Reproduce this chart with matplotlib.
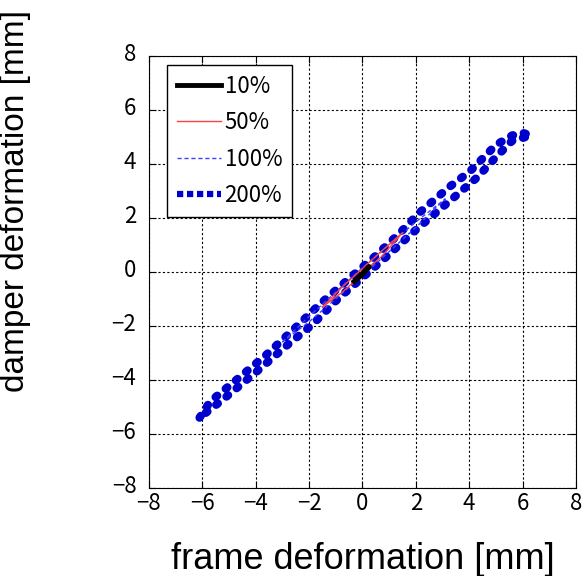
import matplotlib
matplotlib.use("Agg")
import matplotlib.pyplot as plt
from matplotlib.transforms import ScaledTranslation

# 200% loop (upper branch then return branch)
x200 = [-6.1, -5.7, -4.6, -3.6, -2.6, -1.6, -0.5, 0.5, 1.4, 2.13, 3.26, 4.0, 5.0, 5.6, 6.0, 6.3,
        5.6, 5.0, 4.3, 3.63, 2.88, 1.87, 0.9, -0.22, -0.9, -1.87, -2.8, -3.97, -5.24, -6.1]
y200 = [-5.4, -4.8, -3.9, -3.07, -2.15, -1.2, -0.25, 0.6, 1.44, 2.19, 3.15, 3.7, 4.7, 5.05, 5.15, 5.05,
        4.85, 4.25, 3.5, 2.93, 2.3, 1.44, 0.56, -0.4, -0.98, -1.95, -2.7, -3.7, -4.74, -5.4]
# 100% loop
x100 = [-3.0, -2.0, -1.0, 0.0, 1.0, 2.0, 3.1, 2.0, 1.0, 0.0, -1.0, -2.0, -3.0]
y100 = [-2.6, -1.65, -0.75, 0.15, 1.0, 1.85, 2.7, 1.65, 0.75, -0.15, -1.0, -1.85, -2.6]
# 50% loop
x50 = [-1.5, -0.75, 0.0, 0.75, 1.5, 0.75, 0.0, -0.75, -1.5]
y50 = [-1.3, -0.55, 0.12, 0.8, 1.45, 0.6, -0.08, -0.75, -1.3]
# 10% loop
x10 = [-0.3, 0.0, 0.25, 0.0, -0.3]
y10 = [-0.35, -0.05, 0.2, -0.1, -0.35]

fig = plt.figure(figsize=(5.86, 5.76), dpi=100)
ax = fig.add_axes([0.254, 0.153, 0.729, 0.75])

tickfont = ['Noto Sans CJK JP', 'DejaVu Sans']

ax.plot(x10, y10, color="black", lw=3.5, label="10%", zorder=5)
ax.plot(x50, y50, color="#ff4040", lw=1.0, label="50%", zorder=4)
ax.plot(x100, y100, color="#4040ff", lw=1.0, ls=(0, (3, 2)), label="100%", zorder=3)
ax.plot(x200, y200, color="#0000cc", lw=6, ls=(0, (0.25, 1.33)), dash_capstyle="round",
        label="200%", zorder=2)

ax.set_xlim(-8, 8)
ax.set_ylim(-8, 8)
ax.set_xticks(range(-8, 9, 2))
ax.set_yticks(range(-8, 9, 2))
ax.grid(True, color="black", ls=(0, (2, 2)), lw=0.8)
ax.tick_params(direction="in", top=True, right=True, length=5, labelsize=16)
ax.tick_params(axis="x", pad=3)
ax.tick_params(axis="y", pad=9)
for lab in ax.get_xticklabels() + ax.get_yticklabels():
    lab.set_family(tickfont)
# y tick labels sit a little above their ticks in the original
shift = ScaledTranslation(0, 0.04, fig.dpi_scale_trans)
for lab in ax.get_yticklabels():
    lab.set_transform(lab.get_transform() + shift)

ax.set_xlabel("frame deformation [mm]", fontsize=26, family="Liberation Sans")
ax.xaxis.set_label_coords(0.5, -0.125)
ax.set_ylabel("damper deformation [mm]", fontsize=24, family="Liberation Sans")
ax.yaxis.set_label_coords(-0.275, 0.664)

leg = ax.legend(loc="upper left", bbox_to_anchor=(0.042, 0.979), fancybox=False,
                edgecolor="black", framealpha=1,
                handlelength=2.0, handletextpad=0.15, borderaxespad=0, borderpad=0.45,
                prop={"family": tickfont, "size": 16}, labelspacing=0.6)
leg.get_frame().set_linewidth(1.0)
for h in leg.get_lines():
    h.set_dash_capstyle("butt")
leg.get_lines()[3].set_linewidth(4.5)
leg.get_lines()[3].set_linestyle((0, (1.0, 0.6)))

fig.savefig("out.png", dpi=100)
